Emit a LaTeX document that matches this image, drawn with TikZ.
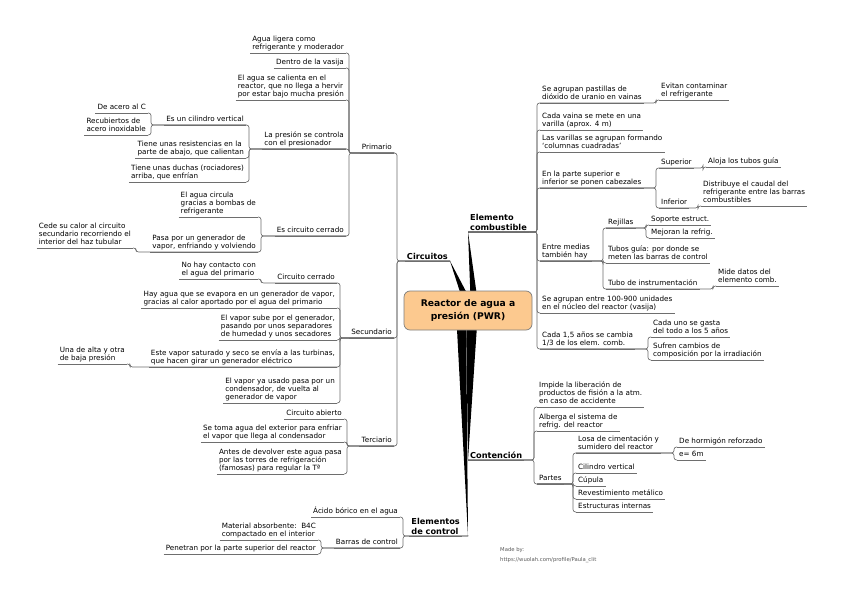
\documentclass[tikz,border=0pt]{standalone}
\usepackage{fontspec}
\setmainfont{DejaVu Sans}
\usetikzlibrary{calc}
\definecolor{linec}{RGB}{110,110,110}
\definecolor{rootfill}{RGB}{252,201,143}
\definecolor{rootdraw}{RGB}{125,125,125}
\definecolor{credit}{RGB}{90,90,90}
\newcommand\mmL[2]{\draw[conn] (#1.south east) -| ([xshift=3pt]#2.south east) -- (#2.south east);}
\newcommand\mmR[2]{\draw[conn] (#1.south west) -| ([xshift=-3pt]#2.south west) -- (#2.south west);}
\begin{document}
\begin{tikzpicture}[x=1pt,y=-1pt,
 uline/.style={draw=linec,line width=0.65pt},
 conn/.style={draw=linec,line width=0.65pt,rounded corners=2.5pt},
 txt/.style={font=\fontsize{7.2}{8.3}\selectfont,align=left,inner xsep=2pt,inner ysep=0.5pt,execute at end node={\strut},append after command={(\tikzlastnode.south west) edge[uline] (\tikzlastnode.south east)}},
 L/.style={txt,anchor=south east},
 R/.style={txt,anchor=south west},
 head/.style={font=\fontsize{8.2}{10}\selectfont\bfseries,align=left,inner xsep=2pt,inner ysep=1.5pt,append after command={(\tikzlastnode.south west) edge[uline] (\tikzlastnode.south east)}},
 wedge/.style={fill=black},
]
\fill[white] (0,0) rectangle (848,599);
\useasboundingbox (0,0) rectangle (848,599);
\coordinate (rc) at (468,310.5);

% ---------- headings ----------
\node[head,anchor=south east] (circ) at (450,261) {Circuitos};
\node[head,anchor=south west] (comb) at (468,232) {Elemento\\combustible};
\node[head,anchor=south west] (cont) at (468,460) {Contención};
\node[head,anchor=south east] (ctrl) at (462,536) {Elementos\\de control};

% ---------- Circuitos ----------
\node[L] (prim) at (394,153) {Primario};
\node[L] (sec) at (394,338) {Secundario};
\node[L] (ter) at (394,446) {Terciario};
\mmL{circ}{prim}
\mmL{circ}{sec}
\mmL{circ}{ter}

% Primario
\node[L] (p1) at (346,53) {Agua ligera como\\refrigerante y moderador};
\node[L] (p2) at (346,68) {Dentro de la vasija};
\node[L] (p3) at (346,100) {El agua se calienta en el\\reactor, que no llega a hervir\\por estar bajo mucha presión};
\node[L] (p4) at (346,149) {La presión se controla\\con el presionador};
\node[L] (p5) at (346,236) {Es circuito cerrado};
\foreach \c in {p1,p2,p3,p4,p5} {\mmL{prim}{\c}}

\node[L] (p41) at (246,125) {Es un cilindro vertical};
\node[L] (p42) at (246,158) {Tiene unas resistencias en la\\parte de abajo, que calientan};
\node[L] (p43) at (246,182) {Tiene unas duchas (rociadores)\\arriba, que enfrían};
\foreach \c in {p41,p42,p43} {\mmL{p4}{\c}}

\node[L] (p411) at (148,113) {De acero al C};
\node[L] (p412) at (148,135) {Recubiertos de\\acero inoxidable};
\mmL{p41}{p411}
\mmL{p41}{p412}

\node[L] (p51) at (258,217) {El agua circula\\gracias a bombas de\\refrigerante};
\node[L] (p52) at (258,252) {Pasa por un generador de\\vapor, enfriando y volviendo};
\mmL{p5}{p51}
\mmL{p5}{p52}
\node[L] (p521) at (133,248) {Cede su calor al circuito\\secundario recorriendo el\\interior del haz tubular};
\mmL{p52}{p521}

% Secundario
\node[L] (s1) at (337,283) {Circuito cerrado};
\node[L] (s2) at (337,308) {Hay agua que se evapora en un generador de vapor,\\gracias al calor aportado por el agua del primario};
\node[L] (s3) at (337,340) {El vapor sube por el generador,\\pasando por unos separadores\\de humedad y unos secadores};
\node[L] (s4) at (337,367) {Este vapor saturado y seco se envía a las turbinas,\\que hacen girar un generador eléctrico};
\node[L] (s5) at (337,403) {El vapor ya usado pasa por un\\condensador, de vuelta al\\generador de vapor};
\foreach \c in {s1,s2,s3,s4,s5} {\mmL{sec}{\c}}
\node[L] (s11) at (258,279) {No hay contacto con\\el agua del primario};
\mmL{s1}{s11}
\node[L] (s41) at (127,364) {Una de alta y otra\\de baja presión};
\mmL{s4}{s41}

% Terciario
\node[L] (t1) at (344,419) {Circuito abierto};
\node[L] (t2) at (344,442) {Se toma agua del exterior para enfriar\\el vapor que llega al condensador};
\node[L] (t3) at (344,474) {Antes de devolver este agua pasa\\por las torres de refrigeración\\(famosas) para regular la Tª};
\foreach \c in {t1,t2,t3} {\mmL{ter}{\c}}

% ---------- Elementos de control ----------
\node[L] (c1) at (400,517) {Ácido bórico en el agua};
\node[L] (c2) at (400,548) {Barras de control};
\draw[conn] ([xshift=6pt]ctrl.south east) -| ([xshift=3pt]c1.south east) -- (c1.south east);
\draw[conn] ([xshift=6pt]ctrl.south east) -| ([xshift=3pt]c2.south east) -- (c2.south east);
\node[L] (c21) at (318,540) {Material absorbente:\ \ B4C\\compactado en el interior};
\node[L] (c22) at (318,554) {Penetran por la parte superior del reactor};
\mmL{c2}{c21}
\mmL{c2}{c22}

% ---------- Elemento combustible ----------
\node[R] (e1) at (540,103) {Se agrupan pastillas de\\dióxido de uranio en vainas};
\node[R] (e2) at (540,130) {Cada vaina se mete en una\\varilla (aprox. 4 m)};
\node[R] (e3) at (540,152) {Las varillas se agrupan formando\\`columnas cuadradas'};
\node[R] (e4) at (540,188) {En la parte superior e\\inferior se ponen cabezales};
\node[R] (e5) at (540,261) {Entre medias\\también hay};
\node[R] (e6) at (540,313) {Se agrupan entre 100-900 unidades\\en el núcleo del reactor (vasija)};
\node[R] (e7) at (540,349) {Cada 1,5 años se cambia\\1/3 de los elem. comb.};
\foreach \c in {e1,e2,e3,e4,e5,e6,e7} {\mmR{comb}{\c}}

\node[R] (e11) at (659,100) {Evitan contaminar\\el refrigerante};
\mmR{e1}{e11}

\node[R] (e41) at (659,168) {Superior};
\node[R] (e42) at (659,208) {Inferior};
\mmR{e4}{e41}
\mmR{e4}{e42}
\node[R] (e411) at (706,167) {Aloja los tubos guía};
\mmR{e41}{e411}
\node[R] (e421) at (701,206) {Distribuye el caudal del\\refrigerante entre las barras\\combustibles};
\mmR{e42}{e421}

\node[R] (e51) at (606,228) {Rejillas};
\node[R] (e52) at (606,263) {Tubos guía: por donde se\\meten las barras de control};
\node[R] (e53) at (606,289) {Tubo de instrumentación};
\foreach \c in {e51,e52,e53} {\mmR{e5}{\c}}
\node[R] (e511) at (649,225) {Soporte estruct.};
\node[R] (e512) at (649,238) {Mejoran la refrig.};
\mmR{e51}{e511}
\mmR{e51}{e512}
\node[R] (e531) at (716,286) {Mide datos del\\elemento comb.};
\mmR{e53}{e531}

\node[R] (e71) at (651,337) {Cada uno se gasta\\del todo a los 5 años};
\node[R] (e72) at (651,360) {Sufren cambios de\\composición por la irradiación};
\mmR{e7}{e71}
\mmR{e7}{e72}

% ---------- Contención ----------
\node[R] (k1) at (537,407) {Impide la liberación de\\productos de fisión a la atm.\\en caso de accidente};
\node[R] (k2) at (537,431) {Alberga el sistema de\\refrig. del reactor};
\node[R] (k3) at (537,484) {Partes};
\foreach \c in {k1,k2,k3} {\mmR{cont}{\c}}
\node[R] (k31) at (576,453) {Losa de cimentación y\\sumidero del reactor};
\node[R] (k32) at (576,473) {Cilindro vertical};
\node[R] (k33) at (576,486) {Cúpula};
\node[R] (k34) at (576,499) {Revestimiento metálico};
\node[R] (k35) at (576,512) {Estructuras internas};
\foreach \c in {k31,k32,k33,k34,k35} {\mmR{k3}{\c}}
\node[R] (k311) at (677,447) {De hormigón reforzado};
\node[R] (k312) at (677,460) {e= 6m};
\mmR{k31}{k311}
\mmR{k31}{k312}

% ---------- wedges and root ----------
\fill[wedge] (circ.south east) -- ($(rc)+(-2,0)$) -- ($(rc)+(8,0)$) -- cycle;
\fill[wedge] (comb.south west) -- ($(rc)+(3,0)$) -- ($(rc)+(11,0)$) -- cycle;
\fill[wedge] (cont.south west) -- ($(rc)+(-2,0)$) -- ($(rc)+(10,0)$) -- cycle;
\fill[wedge] ([xshift=6pt]ctrl.south east) -- ($(rc)+(-12,0)$) -- ($(rc)+(-2,0)$) -- cycle;
\node[draw=rootdraw,fill=rootfill,line width=0.7pt,rounded corners=6pt,minimum width=128pt,minimum height=39pt,align=center,font=\fontsize{9.2}{13}\selectfont\bfseries] (root) at (rc) {Reactor de agua a\\presión (PWR)};

% ---------- credit ----------
\node[font=\fontsize{5.3}{10.5}\selectfont,text=credit,align=left,anchor=north west,inner sep=0pt] (credit) at (500,547) {Made by:\\https://wuolah.com/profile/Paula\_clit};
\end{tikzpicture}
\end{document}
